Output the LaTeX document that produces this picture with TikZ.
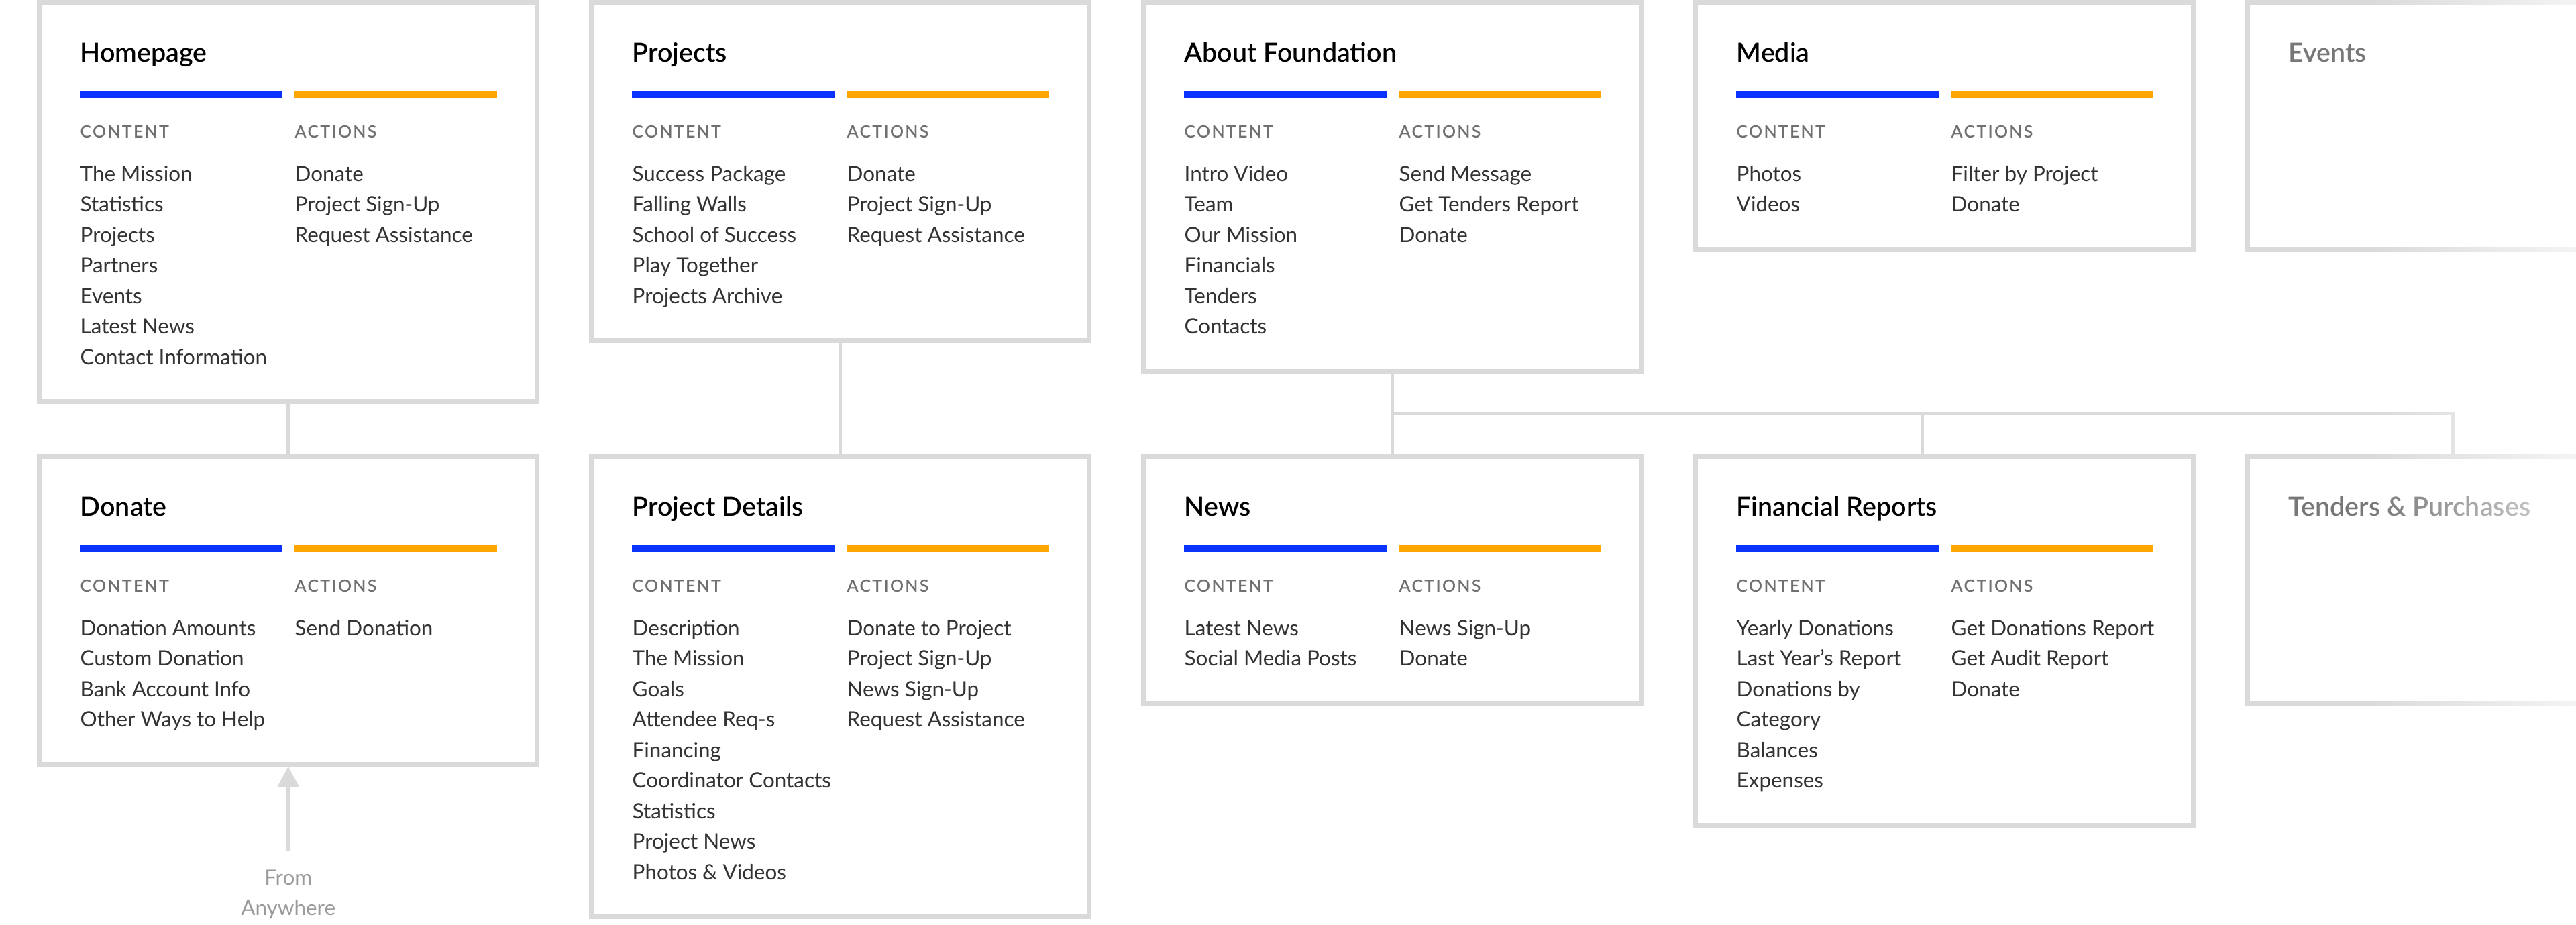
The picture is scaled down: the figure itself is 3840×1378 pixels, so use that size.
\documentclass[tikz,border=0pt]{standalone}
\usepackage{fontspec}
\setmainfont{Lato}
\newfontfamily\semib{Lato Semibold}
\usetikzlibrary{arrows.meta,fadings}
\definecolor{boxgray}{HTML}{DADADA}
\definecolor{barblue}{HTML}{0A33FF}
\definecolor{barorange}{HTML}{FFA600}
\definecolor{itemgray}{HTML}{333333}
\definecolor{labelgray}{HTML}{707070}
\definecolor{stubgray}{HTML}{777777}
\definecolor{fromgray}{HTML}{9A9A9A}
\tikzfading[name=faderight, left color=transparent!100, right color=transparent!0]
\tikzset{
  boxst/.style={draw=boxgray, line width=0.07cm, fill=white, rectangle, minimum width=7.42cm, inner sep=0, anchor=north west},
  titlest/.style={font=\fontsize{11.2}{13}\semib, text=black, inner sep=0, anchor=base west},
  labelst/.style={font=\fontsize{7.1}{8}\semib\addfontfeature{LetterSpace=9}, text=labelgray, inner sep=0, anchor=base west},
  itemst/.style={font=\fontsize{8.93}{12.95}\selectfont, text=itemgray, inner sep=0, anchor=base west},
  fromst/.style={font=\fontsize{8.93}{12.95}\selectfont, text=fromgray, align=center, inner sep=0, anchor=north},
  bluebar/.style={draw=barblue, line width=0.1cm},
  orangebar/.style={draw=barorange, line width=0.1cm},
  link/.style={draw=boxgray, line width=0.05cm},
}
\newcommand{\sitebox}[7]{%
  \pgfmathsetmacro{\boxh}{(322+(#4-1)*45.5)/100}%
  \node[boxst, minimum height=\boxh cm] (#1) at (#2,#3) {};
  \node[titlest] (#1-title) at ({#2+64},{#3+92}) {#5};
  \draw[bluebar] ({#2+64},{#3+141}) -- ({#2+366},{#3+141});
  \draw[orangebar] ({#2+384},{#3+141}) -- ({#2+686},{#3+141});
  \node[labelst] (#1-lc) at ({#2+64},{#3+205.5}) {CONTENT};
  \node[labelst] (#1-la) at ({#2+384},{#3+205.5}) {ACTIONS};
  \foreach \s [count=\i] in {#6} {\node[itemst] (#1-c\i) at ({#2+64},{#3+270+(\i-1)*45.5}) {\s};}
  \foreach \s [count=\i] in {#7} {\node[itemst] (#1-a\i) at ({#2+384},{#3+270+(\i-1)*45.5}) {\s};}
}
\newcommand{\stubbox}[4]{%
  \node[boxst, minimum height=3.675cm] (#1) at (#2,#3) {};
  \node[titlest, text=stubgray] (#1-title) at ({#2+64},{#3+92}) {#4};
}
\begin{document}
\begin{tikzpicture}[x=0.01cm,y=-0.01cm]
\useasboundingbox[fill=white] (0,0) rectangle (3840,1378);
% top row
\sitebox{home}{55}{0}{7}{Homepage}{The Mission,Statistics,Projects,Partners,Events,Latest News,Contact Information}{Donate,Project Sign-Up,Request Assistance}
\sitebox{proj}{878}{0}{5}{Projects}{Success Package,Falling Walls,School of Success,Play Together,Projects Archive}{Donate,Project Sign-Up,Request Assistance}
\sitebox{about}{1701}{0}{6}{About Foundation}{Intro Video,Team,Our Mission,Financials,Tenders,Contacts}{Send Message,Get Tenders Report,Donate}
\sitebox{media}{2524}{0}{2}{Media}{Photos,Videos}{Filter by Project,Donate}
\stubbox{events}{3347}{0}{Events}
% bottom row
\sitebox{donate}{55}{677}{4}{Donate}{Donation Amounts,Custom Donation,Bank Account Info,Other Ways to Help}{Send Donation}
\sitebox{pdet}{878}{677}{9}{Project Details}{Description,The Mission,Goals,Attendee Req-s,Financing,Coordinator Contacts,Statistics,Project News,Photos \& Videos}{Donate to Project,Project Sign-Up,News Sign-Up,Request Assistance}
\sitebox{news}{1701}{677}{2}{News}{Latest News,Social Media Posts}{News Sign-Up,Donate}
\sitebox{fin}{2524}{677}{6}{Financial Reports}{Yearly Donations,Last Year’s Report,Donations by,Category,Balances,Expenses}{Get Donations Report,Get Audit Report,Donate}
\stubbox{tend}{3347}{677}{Tenders \& Purchases}
% connectors
\draw[link] (home.south) -- (donate.north);
\draw[link] (proj.south) -- (pdet.north);
\draw[link] (about.south) -- (news.north);
\coordinate (j1) at (2865,616);
\coordinate (j2) at (3656,616);
\draw[link] (about.south |- j2) -- (j2) -- (j2 |- tend.north);
\draw[link] (j1) -- (j1 |- fin.north);
% from anywhere
\node[fromst] (fa) at (donate.south |- 0,1296) {From\\Anywhere};
\draw[link, -{Triangle[width=0.31cm,length=0.3cm]}, shorten <=0.27cm] (fa.north) -- (donate.south);
% fade at right edge
\fill[white, path fading=faderight] (3530,-10) rectangle (3970,1390);
\end{tikzpicture}
\end{document}
